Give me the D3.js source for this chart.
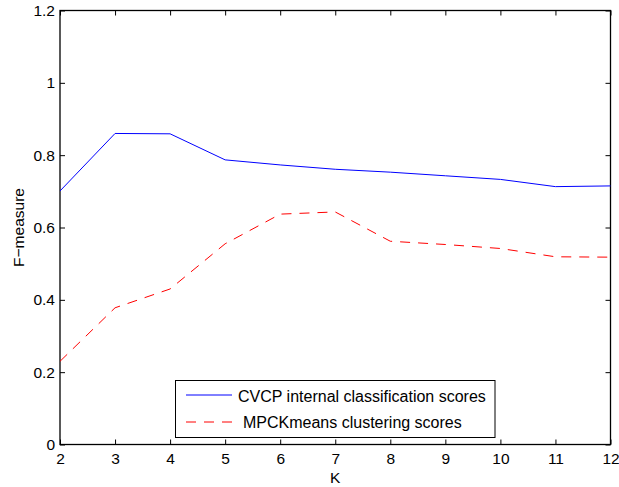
<!DOCTYPE html>
<html>
<head>
<meta charset="utf-8">
<script src="https://cdn.jsdelivr.net/npm/d3@7"></script>
<style>
  html, body { margin: 0; padding: 0; background: #fff; }
  svg { display: block; font-family: "Liberation Sans", Arial, Helvetica, sans-serif; }
</style>
</head>
<body>
<svg id="chart" width="619" height="487"></svg>
<script>
// K values along the x axis
const kValues = [2, 3, 4, 5, 6, 7, 8, 9, 10, 11, 12];
// F-measure for each K
const cvcpScores = [0.701, 0.860, 0.859, 0.787, 0.773, 0.761, 0.753, 0.743, 0.733, 0.713, 0.715];
const mpckScores = [0.230, 0.378, 0.430, 0.555, 0.637, 0.643, 0.562, 0.553, 0.542, 0.519, 0.518];
const seriesNames = ["CVCP internal classification scores", "MPCKmeans clustering scores"];
const xTicks = [2, 3, 4, 5, 6, 7, 8, 9, 10, 11, 12];
const yTicks = [0, 0.2, 0.4, 0.6, 0.8, 1, 1.2];

const svg = d3.select("#chart");
const plotLeft = 60, plotRight = 610.5, plotTop = 10.5, plotBottom = 444.5;

const x = d3.scaleLinear().domain([2, 12]).range([plotLeft, plotRight]);
const y = d3.scaleLinear().domain([0, 1.2]).range([plotBottom, plotTop]);

const fontSize = 15.5;

// Frame-style axes with inward ticks on all four sides
const axisStyle = g => {
  g.select(".domain").remove();
  g.selectAll("line").attr("stroke", "#000").attr("stroke-width", 1);
  g.selectAll("text").attr("font-size", fontSize).attr("fill", "#000")
    .attr("font-family", "Liberation Sans, Arial, sans-serif");
};

svg.append("g").attr("transform", `translate(0,${plotBottom})`)
  .call(d3.axisBottom(x).tickValues(xTicks).tickFormat(d3.format("d")).tickSizeInner(-5).tickSizeOuter(0).tickPadding(8))
  .call(axisStyle);
svg.append("g").attr("transform", `translate(0,${plotTop})`)
  .call(d3.axisTop(x).tickValues(xTicks).tickFormat("").tickSizeInner(-5).tickSizeOuter(0))
  .call(axisStyle);
svg.append("g").attr("transform", `translate(${plotLeft},0)`)
  .call(d3.axisLeft(y).tickValues(yTicks).tickFormat(d => String(+d.toFixed(1))).tickSizeInner(-5).tickSizeOuter(0).tickPadding(5))
  .call(axisStyle);
svg.append("g").attr("transform", `translate(${plotRight},0)`)
  .call(d3.axisRight(y).tickValues(yTicks).tickFormat("").tickSizeInner(-5).tickSizeOuter(0))
  .call(axisStyle);

// Plot frame
svg.append("rect")
  .attr("x", plotLeft).attr("y", plotTop)
  .attr("width", plotRight - plotLeft).attr("height", plotBottom - plotTop)
  .attr("fill", "none").attr("stroke", "#000").attr("stroke-width", 1.3);

const line = d3.line().x((d, i) => x(kValues[i])).y(d => y(d));

svg.append("path").datum(cvcpScores)
  .attr("d", line).attr("fill", "none")
  .attr("stroke", "#0000ff").attr("stroke-width", 1);

svg.append("path").datum(mpckScores)
  .attr("d", line).attr("fill", "none")
  .attr("stroke", "#ff0000").attr("stroke-width", 1)
  .attr("stroke-dasharray", "10,8");

// Axis titles
svg.append("text")
  .attr("x", (plotLeft + plotRight) / 2).attr("y", 483)
  .attr("text-anchor", "middle").attr("font-size", fontSize)
  .text("K");
svg.append("text")
  .attr("transform", `translate(24,${(plotTop + plotBottom) / 2}) rotate(-90)`)
  .attr("text-anchor", "middle").attr("font-size", fontSize)
  .text("F\u2212measure");

// Legend
const legend = svg.append("g");
legend.append("rect")
  .attr("x", 175.5).attr("y", 380.5).attr("width", 319.5).attr("height", 57)
  .attr("fill", "#fff").attr("stroke", "#000").attr("stroke-width", 1);
const legendStyles = [
  { color: "#0000ff", dash: null, cy: 395, tx: 238, base: 402 },
  { color: "#ff0000", dash: "10,8", cy: 422, tx: 243, base: 427.5 }
];
seriesNames.forEach((name, i) => {
  const s = legendStyles[i];
  legend.append("line")
    .attr("x1", 186).attr("x2", 232).attr("y1", s.cy).attr("y2", s.cy)
    .attr("stroke", s.color).attr("stroke-width", 1)
    .attr("stroke-dasharray", s.dash);
  legend.append("text")
    .attr("x", s.tx).attr("y", s.base)
    .attr("font-size", 16)
    .text(name);
});
</script>
</body>
</html>
